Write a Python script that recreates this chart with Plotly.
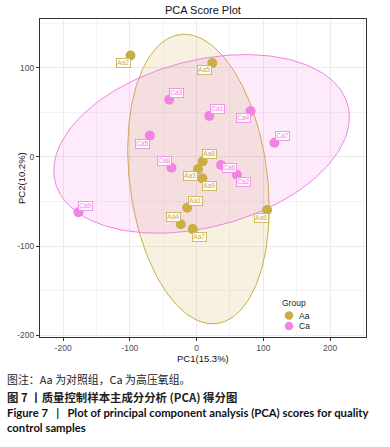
import numpy as np
import plotly.graph_objects as go

# ---------------- data ----------------
aa_names = ["Aa1", "Aa2", "Aa3", "Aa4", "Aa5", "Aa6", "Aa7", "Aa8", "Aa9"]
aa_pc1 = [-14, -99, 2.2, -23.6, 23.6, 105.7, -5.7, 9.2, 8.7]
aa_pc2 = [-57, 114, -13.5, -75.6, 105.6, -59.6, -81, -4.9, -24]

ca_names = ["Ca1", "Ca2", "Ca3", "Ca4", "Ca5", "Ca6", "Ca7", "Ca8", "Ca9"]
ca_pc1 = [19, 60.4, -41, 81, -70, 36.6, 116.7, -37.6, -177]
ca_pc2 = [46, -20, 64.4, 51.7, 24, -9, 16, -12, -62]

# 95% confidence ellipses: centre and covariance-like shape
aa_ell_center = [2.85, -24.75]
aa_ell_shape = [[11236, -3450], [-3450, 26439]]
ca_ell_center = [7.5, 14.7]
ca_ell_shape = [[49062, 6620], [6620, 10060]]

x_ticks = [-200, -100, 0, 100, 200]
y_ticks = [-200, -100, 0, 100]

groups = ["Aa", "Ca"]

# ---------------- styles ----------------
GOLD = "#C9AD45"
PINK = "#F183E3"
GOLD_FILL = "rgba(201,173,69,0.17)"
PINK_FILL = "rgba(241,131,227,0.17)"

label_offsets = {
    "Aa1": (8, -7), "Aa2": (-7, 7), "Aa3": (-8, 7), "Aa4": (-7, -7), "Aa5": (-8, 7),
    "Aa6": (-6, 8), "Aa7": (7, 8), "Aa8": (7, -7), "Aa9": (7, 8),
    "Ca1": (8, -7), "Ca2": (7, 7), "Ca3": (7, -7), "Ca4": (-7, 7), "Ca5": (-7, 8),
    "Ca6": (9, 3), "Ca7": (8, -7), "Ca8": (-7, -7), "Ca9": (7, -6),
}

FIG_W, FIG_H = 390, 447
PANEL_L, PANEL_R, PANEL_T, PANEL_B = 40, 366, 19, 337  # page pixels


def ellipse_path(center, shape, n=200):
    L = np.linalg.cholesky(np.array(shape, dtype=float))
    t = np.linspace(0, 2 * np.pi, n)
    pts = L @ np.vstack([np.cos(t), np.sin(t)])
    return center[0] + pts[0], center[1] + pts[1]


def px_x(p):
    return (p - PANEL_L) / (PANEL_R - PANEL_L)


def px_y(p):
    return (PANEL_B - p) / (PANEL_B - PANEL_T)


fig = go.Figure()

for center, shape, line_c, fill_c in [
    (aa_ell_center, aa_ell_shape, GOLD, GOLD_FILL),
    (ca_ell_center, ca_ell_shape, PINK, PINK_FILL),
]:
    ex, ey = ellipse_path(center, shape)
    fig.add_trace(go.Scatter(x=ex, y=ey, mode="lines", fill="toself",
                             fillcolor=fill_c, line=dict(color=line_c, width=1),
                             showlegend=False, hoverinfo="skip"))

fig.add_trace(go.Scatter(x=aa_pc1, y=aa_pc2, mode="markers", name="Aa", showlegend=False,
                         marker=dict(color=GOLD, size=10)))
fig.add_trace(go.Scatter(x=ca_pc1, y=ca_pc2, mode="markers", name="Ca", showlegend=False,
                         marker=dict(color=PINK, size=10)))

for names, xs, ys, col in [(aa_names, aa_pc1, aa_pc2, GOLD), (ca_names, ca_pc1, ca_pc2, PINK)]:
    for nm, xv, yv in zip(names, xs, ys):
        dx, dy = label_offsets[nm]
        fig.add_annotation(x=xv, y=yv, text=nm, showarrow=True, arrowcolor="rgba(0,0,0,0)",
                           arrowwidth=0.1, ax=dx, ay=dy, xref="x", yref="y",
                           font=dict(size=6.5, color=col, family="Liberation Sans"),
                           bgcolor="rgba(255,255,255,0.85)", bordercolor=col,
                           borderwidth=0.8, borderpad=0.5)

# ---- legend (drawn in the panel's lower right like ggplot) ----
fig.add_shape(type="rect", xref="paper", yref="paper",
              x0=px_x(279), x1=px_x(312), y0=px_y(332), y1=px_y(296),
              fillcolor="white", line=dict(width=0), layer="above")
fig.add_annotation(x=px_x(280), y=px_y(303), xref="paper", yref="paper", text="Group",
                   showarrow=False, xanchor="left", yanchor="middle",
                   font=dict(size=8.5, color="#222", family="Liberation Sans"))
for g, col, yp in zip(groups, [GOLD, PINK], [315.5, 326]):
    r = 4.3
    fig.add_shape(type="circle", xref="paper", yref="paper",
                  x0=px_x(289 - r), x1=px_x(289 + r), y0=px_y(yp + r), y1=px_y(yp - r),
                  fillcolor=col, line=dict(width=0), layer="above")
    fig.add_annotation(x=px_x(297), y=px_y(yp), xref="paper", yref="paper", text=g,
                       showarrow=False, xanchor="left", yanchor="middle",
                       font=dict(size=8.5, color="#222", family="Liberation Sans"))

# ---- axis titles (placed like ggplot) ----
fig.add_annotation(x=px_x(203), y=px_y(358), xref="paper", yref="paper", text="PC1(15.3%)",
                   showarrow=False, xanchor="center", yanchor="middle",
                   font=dict(size=9.5, color="#111", family="Liberation Sans"))
fig.add_annotation(x=px_x(21), y=px_y(178), xref="paper", yref="paper", text="PC2(10.2%)",
                   showarrow=False, xanchor="center", yanchor="middle", textangle=-90,
                   font=dict(size=9.5, color="#111", family="Liberation Sans"))

# ---- captions below the plot ----
captions = [
    ("图注：Aa 为对照组，Ca 为高压氧组。", 379, 10.9, "Noto Sans CJK SC", "#222"),
    ("<b>图 7 丨质量控制样本主成分分析 (PCA) 得分图</b>", 397, 11.4, "Noto Sans CJK SC", "#222"),
    ("<b>Figure 7&nbsp;&nbsp;&nbsp;|&nbsp;&nbsp;&nbsp;Plot of principal component analysis (PCA) scores for quality</b>",
     412, 11.3, "Lato", "#111"),
    ("<b>control samples</b>", 427, 11.3, "Lato", "#111"),
]
for txt, yp, fs, fam, c in captions:
    fig.add_annotation(x=px_x(5), y=px_y(yp), xref="paper", yref="paper", text=txt,
                       showarrow=False, xanchor="left", yanchor="middle",
                       font=dict(size=fs, family=fam, color=c))

fig.add_annotation(x=px_x(203), y=px_y(10), xref="paper", yref="paper", text="PCA Score Plot",
                   showarrow=False, xanchor="center", yanchor="middle",
                   font=dict(size=11, color="#111", family="Liberation Sans"))

fig.update_layout(
    width=FIG_W, height=FIG_H,
    margin=dict(l=PANEL_L, r=FIG_W - PANEL_R, t=PANEL_T, b=FIG_H - PANEL_B,
                autoexpand=False),
    paper_bgcolor="white", plot_bgcolor="white",
    font=dict(family="Liberation Sans", color="#222"),
    showlegend=False,
)

axis_common = dict(showline=True, linecolor="#333", linewidth=1, mirror=True,
                   ticks="outside", ticklen=3, tickcolor="#333", tickwidth=1,
                   tickfont=dict(size=8.5, color="#4D4D4D"),
                   showgrid=True, gridcolor="#EBEBEB", gridwidth=1, zeroline=False)

fig.update_xaxes(range=[-234.6, 253.9], tickvals=x_ticks,
                 ticktext=[str(v) for v in x_ticks],
                 minor=dict(dtick=50, showgrid=True, gridcolor="#F3F3F3", gridwidth=0.6, ticks=""),
                 **axis_common)
fig.update_yaxes(range=[-202.2, 155], tickvals=y_ticks,
                 ticktext=[str(v) for v in y_ticks],
                 minor=dict(dtick=50, showgrid=True, gridcolor="#F3F3F3", gridwidth=0.6, ticks=""),
                 **axis_common)

fig.write_html("out.html", config={"displayModeBar": False},
               post_script="document.body.style.margin='0';")
